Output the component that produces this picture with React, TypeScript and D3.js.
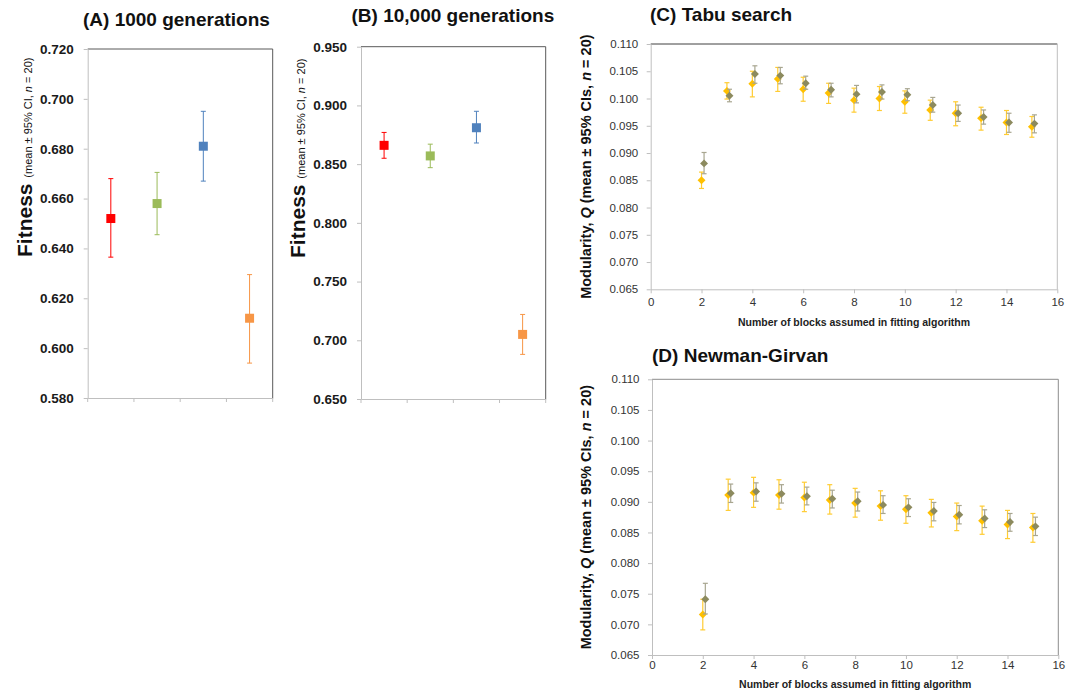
import React, { useEffect, useRef } from "react";
import * as d3 from "d3";

// fitness panels (A, B): four treatments, mean and 95% CI
const fitColors = ["#FF0000", "#9BBB59", "#4F81BD", "#F79646"];
const fit1000Mean = [0.652, 0.658, 0.681, 0.612];
const fit1000Lo = [0.6365, 0.6455, 0.667, 0.594];
const fit1000Hi = [0.668, 0.6705, 0.695, 0.6295];
const fit10000Mean = [0.866, 0.857, 0.881, 0.705];
const fit10000Lo = [0.855, 0.847, 0.868, 0.688];
const fit10000Hi = [0.877, 0.867, 0.895, 0.722];

// modularity panels (C, D)
const blocks = [2, 3, 4, 5, 6, 7, 8, 9, 10, 11, 12, 13, 14, 15];

const tabuYellow = [0.085, 0.1014, 0.1027, 0.1036, 0.1017, 0.101, 0.0997, 0.1, 0.0994, 0.0979, 0.0973, 0.0964, 0.0956, 0.0948];
const tabuYellowLo = [0.0835, 0.0999, 0.1003, 0.1013, 0.0995, 0.0991, 0.0975, 0.0978, 0.0973, 0.096, 0.095, 0.0942, 0.0934, 0.0929];
const tabuYellowHi = [0.0865, 0.1029, 0.105, 0.1057, 0.1039, 0.1028, 0.1019, 0.1022, 0.1014, 0.0997, 0.0994, 0.0984, 0.0978, 0.0967];
const tabuOlive = [0.0881, 0.1005, 0.1045, 0.1042, 0.1028, 0.1016, 0.1008, 0.1012, 0.1007, 0.0988, 0.0973, 0.0966, 0.0956, 0.0954];
const tabuOliveLo = [0.0862, 0.0994, 0.1028, 0.1027, 0.1017, 0.1003, 0.0992, 0.0999, 0.0996, 0.0975, 0.0958, 0.0953, 0.0938, 0.0937];
const tabuOliveHi = [0.0901, 0.1017, 0.106, 0.1057, 0.1041, 0.1028, 0.1024, 0.1025, 0.1018, 0.1002, 0.0988, 0.0979, 0.0973, 0.097];

const ngYellow = [0.0716, 0.0911, 0.0915, 0.0911, 0.0907, 0.0903, 0.0898, 0.0893, 0.0888, 0.0882, 0.0876, 0.0869, 0.0863, 0.0858];
const ngYellowLo = [0.0691, 0.0886, 0.0891, 0.0888, 0.0884, 0.088, 0.0875, 0.087, 0.0865, 0.0859, 0.0853, 0.0847, 0.084, 0.0834];
const ngYellowHi = [0.0741, 0.0937, 0.094, 0.0936, 0.0932, 0.0928, 0.0922, 0.0918, 0.091, 0.0904, 0.0898, 0.0893, 0.0886, 0.0881];
const ngOlive = [0.0741, 0.0914, 0.0917, 0.0913, 0.0909, 0.0905, 0.0901, 0.0895, 0.0891, 0.0885, 0.0879, 0.0873, 0.0867, 0.086];
const ngOliveLo = [0.0717, 0.0899, 0.0901, 0.0898, 0.0895, 0.089, 0.0885, 0.0881, 0.0876, 0.0869, 0.0864, 0.0858, 0.0852, 0.0845];
const ngOliveHi = [0.0767, 0.0929, 0.0931, 0.0928, 0.0924, 0.0919, 0.0916, 0.091, 0.0905, 0.0899, 0.0894, 0.0887, 0.0881, 0.0875];

const fitTicksA = [0.58, 0.6, 0.62, 0.64, 0.66, 0.68, 0.7, 0.72];
const fitTicksB = [0.65, 0.7, 0.75, 0.8, 0.85, 0.9, 0.95];
const modTicks = [0.065, 0.07, 0.075, 0.08, 0.085, 0.09, 0.095, 0.1, 0.105, 0.11];
const blockTicks = [0, 2, 4, 6, 8, 10, 12, 14, 16];

const FONT = "'Liberation Sans', Arial, sans-serif";
const AXIS = "#bfbfbf";

function drawFitness(svg, o) {
  const x = d3.scaleBand().domain(d3.range(o.means.length)).range([o.left, o.right]);
  const y = d3.scaleLinear().domain(d3.extent(o.ticks)).range([o.bottom, o.top]);
  const g = svg.append("g");

  // frame
  g.append("line").attr("x1", o.left).attr("x2", o.right).attr("y1", o.top).attr("y2", o.top).attr("stroke", "#595959");
  g.append("line").attr("x1", o.right).attr("x2", o.right).attr("y1", o.top).attr("y2", o.bottom).attr("stroke", "#595959");

  const ya = g.append("g").attr("transform", `translate(${o.left},0)`)
    .call(d3.axisLeft(y).tickValues(o.ticks).tickFormat(d3.format(".3f")).tickSize(4).tickSizeOuter(0).tickPadding(10));
  ya.selectAll("path,line").attr("stroke", AXIS);
  ya.selectAll("text").attr("font-family", FONT).attr("font-weight", "bold").attr("font-size", 13.5).attr("fill", "#1a1a1a");

  const xa = g.append("g").attr("transform", `translate(0,${o.bottom})`)
    .call(d3.axisBottom(x).tickValues([]).tickSizeOuter(0));
  xa.selectAll("path").attr("stroke", AXIS);
  // category boundary ticks
  g.selectAll(".ctick").data(d3.range(o.means.length + 1)).enter().append("line")
    .attr("x1", (i) => o.left + i * x.step()).attr("x2", (i) => o.left + i * x.step())
    .attr("y1", o.bottom).attr("y2", o.bottom + 4).attr("stroke", AXIS);

  const cx = (i) => x(i) + x.bandwidth() / 2;
  const pts = g.selectAll(".pt").data(o.means.map((m, i) => ({ m, i }))).enter().append("g");
  pts.append("line").attr("x1", (d) => cx(d.i)).attr("x2", (d) => cx(d.i))
    .attr("y1", (d) => y(o.lo[d.i])).attr("y2", (d) => y(o.hi[d.i])).attr("stroke", (d) => fitColors[d.i]).attr("stroke-width", 1);
  [o.lo, o.hi].forEach((arr) => {
    pts.append("line").attr("x1", (d) => cx(d.i) - 2.5).attr("x2", (d) => cx(d.i) + 2.5)
      .attr("y1", (d) => y(arr[d.i])).attr("y2", (d) => y(arr[d.i])).attr("stroke", (d) => fitColors[d.i]);
  });
  pts.append("rect").attr("x", (d) => cx(d.i) - 4.5).attr("y", (d) => y(d.m) - 4.5)
    .attr("width", 9).attr("height", 9).attr("fill", (d) => fitColors[d.i]);

  svg.append("text").attr("x", o.titleX).attr("y", o.titleY).attr("font-family", FONT)
    .attr("font-weight", "bold").attr("font-size", 19).attr("fill", "#111").text(o.title);

  const lab = svg.append("text").attr("transform", `translate(${o.labelX},${o.labelY}) rotate(-90)`)
    .attr("font-family", FONT).attr("fill", "#111");
  lab.append("tspan").attr("font-size", 21).attr("font-weight", "bold").text("Fitness ");
  lab.append("tspan").attr("font-size", 11).text("(mean ± 95% CI, ");
  lab.append("tspan").attr("font-size", 11).attr("font-style", "italic").text("n");
  lab.append("tspan").attr("font-size", 11).text(" = 20)");
}

function drawModularity(svg, o) {
  const x = d3.scaleLinear().domain([0, 16]).range([o.left, o.right]);
  const y = d3.scaleLinear().domain([0.065, 0.11]).range([o.bottom, o.top]);
  const g = svg.append("g");

  g.append("line").attr("x1", o.left).attr("x2", o.right).attr("y1", o.top).attr("y2", o.top).attr("stroke", o.topColor);
  g.append("line").attr("x1", o.right).attr("x2", o.right).attr("y1", o.top).attr("y2", o.bottom).attr("stroke", o.rightColor);

  const ya = g.append("g").attr("transform", `translate(${o.left},0)`)
    .call(d3.axisLeft(y).tickValues(modTicks).tickFormat(d3.format(".3f")).tickSize(4).tickSizeOuter(0).tickPadding(8.5));
  ya.selectAll("path,line").attr("stroke", AXIS);
  ya.selectAll("text").attr("font-family", FONT).attr("font-size", 11.5).attr("fill", "#333");

  const xa = g.append("g").attr("transform", `translate(0,${o.bottom})`)
    .call(d3.axisBottom(x).tickValues(blockTicks).tickSize(4).tickSizeOuter(0).tickPadding(o.xPad));
  xa.selectAll("path,line").attr("stroke", AXIS);
  xa.selectAll("text").attr("font-family", FONT).attr("font-size", 11.5).attr("fill", "#333");

  const series = [
    { m: o.yellow, lo: o.yellowLo, hi: o.yellowHi, dx: 0, fill: "#FFC000", bar: "#FFCC33" },
    { m: o.olive, lo: o.oliveLo, hi: o.oliveHi, dx: 0.1, fill: "#8C8A5E", bar: "#A8A690" },
  ];
  series.forEach((s) => {
    const sg = g.append("g");
    const pts = sg.selectAll("g").data(blocks.map((b, i) => ({ b, i }))).enter().append("g");
    const px = (d) => x(d.b + s.dx);
    pts.append("line").attr("x1", px).attr("x2", px)
      .attr("y1", (d) => y(s.lo[d.i])).attr("y2", (d) => y(s.hi[d.i])).attr("stroke", s.bar).attr("stroke-width", 1.2);
    [s.lo, s.hi].forEach((arr) => {
      pts.append("line").attr("x1", (d) => px(d) - 2.5).attr("x2", (d) => px(d) + 2.5)
        .attr("y1", (d) => y(arr[d.i])).attr("y2", (d) => y(arr[d.i])).attr("stroke", s.bar).attr("stroke-width", 1.2);
    });
    pts.append("path").attr("d", d3.symbol(d3.symbolDiamond2, 40))
      .attr("transform", (d) => `translate(${px(d)},${y(s.m[d.i])})`).attr("fill", s.fill);
  });

  svg.append("text").attr("x", (o.left + o.right) / 2).attr("y", o.xTitleY).attr("text-anchor", "middle")
    .attr("font-family", FONT).attr("font-weight", "bold").attr("font-size", 10.5).attr("fill", "#222")
    .text("Number of blocks assumed in fitting algorithm");

  svg.append("text").attr("x", o.titleX).attr("y", o.titleY).attr("font-family", FONT)
    .attr("font-weight", "bold").attr("font-size", 19).attr("fill", "#111").text(o.title);

  const lab = svg.append("text").attr("transform", `translate(${o.labelX},${(o.top + o.bottom) / 2}) rotate(-90)`)
    .attr("text-anchor", "middle").attr("font-family", FONT).attr("font-weight", "bold")
    .attr("font-size", 14.5).attr("fill", "#111");
  lab.append("tspan").text("Modularity, ");
  lab.append("tspan").attr("font-style", "italic").text("Q");
  lab.append("tspan").text(" (mean ± 95% CIs, ");
  lab.append("tspan").attr("font-style", "italic").text("n");
  lab.append("tspan").text(" = 20)");
}

export default function App() {
  const ref = useRef(null);

  useEffect(() => {
    const svg = d3.select(ref.current);
    svg.selectAll("*").remove();

    drawFitness(svg, {
      left: 87.7, right: 272.7, top: 49, bottom: 398, ticks: fitTicksA,
      means: fit1000Mean, lo: fit1000Lo, hi: fit1000Hi,
      title: "(A) 1000 generations", titleX: 83, titleY: 26, labelX: 31.5, labelY: 257,
    });
    drawFitness(svg, {
      left: 361, right: 545.7, top: 46.7, bottom: 399, ticks: fitTicksB,
      means: fit10000Mean, lo: fit10000Lo, hi: fit10000Hi,
      title: "(B) 10,000 generations", titleX: 351.5, titleY: 22, labelX: 305, labelY: 258,
    });
    drawModularity(svg, {
      left: 650.7, right: 1057.3, top: 44, bottom: 289.3, xPad: 4.5, xTitleY: 326,
      yellow: tabuYellow, yellowLo: tabuYellowLo, yellowHi: tabuYellowHi,
      olive: tabuOlive, oliveLo: tabuOliveLo, oliveHi: tabuOliveHi,
      title: "(C) Tabu search", titleX: 650, titleY: 21, labelX: 591,
      topColor: "#404040", rightColor: "#bfbfbf",
    });
    drawModularity(svg, {
      left: 652, right: 1058.3, top: 379.3, bottom: 655, xPad: 2, xTitleY: 688,
      yellow: ngYellow, yellowLo: ngYellowLo, yellowHi: ngYellowHi,
      olive: ngOlive, oliveLo: ngOliveLo, oliveHi: ngOliveHi,
      title: "(D) Newman-Girvan", titleX: 652, titleY: 362, labelX: 591,
      topColor: "#8c8c8c", rightColor: "#8c8c8c",
    });
  }, []);

  return (
    <svg
      ref={ref}
      width={1075}
      height={694}
      style={{ position: "absolute", left: 0, top: 0, background: "#fff" }}
    />
  );
}
